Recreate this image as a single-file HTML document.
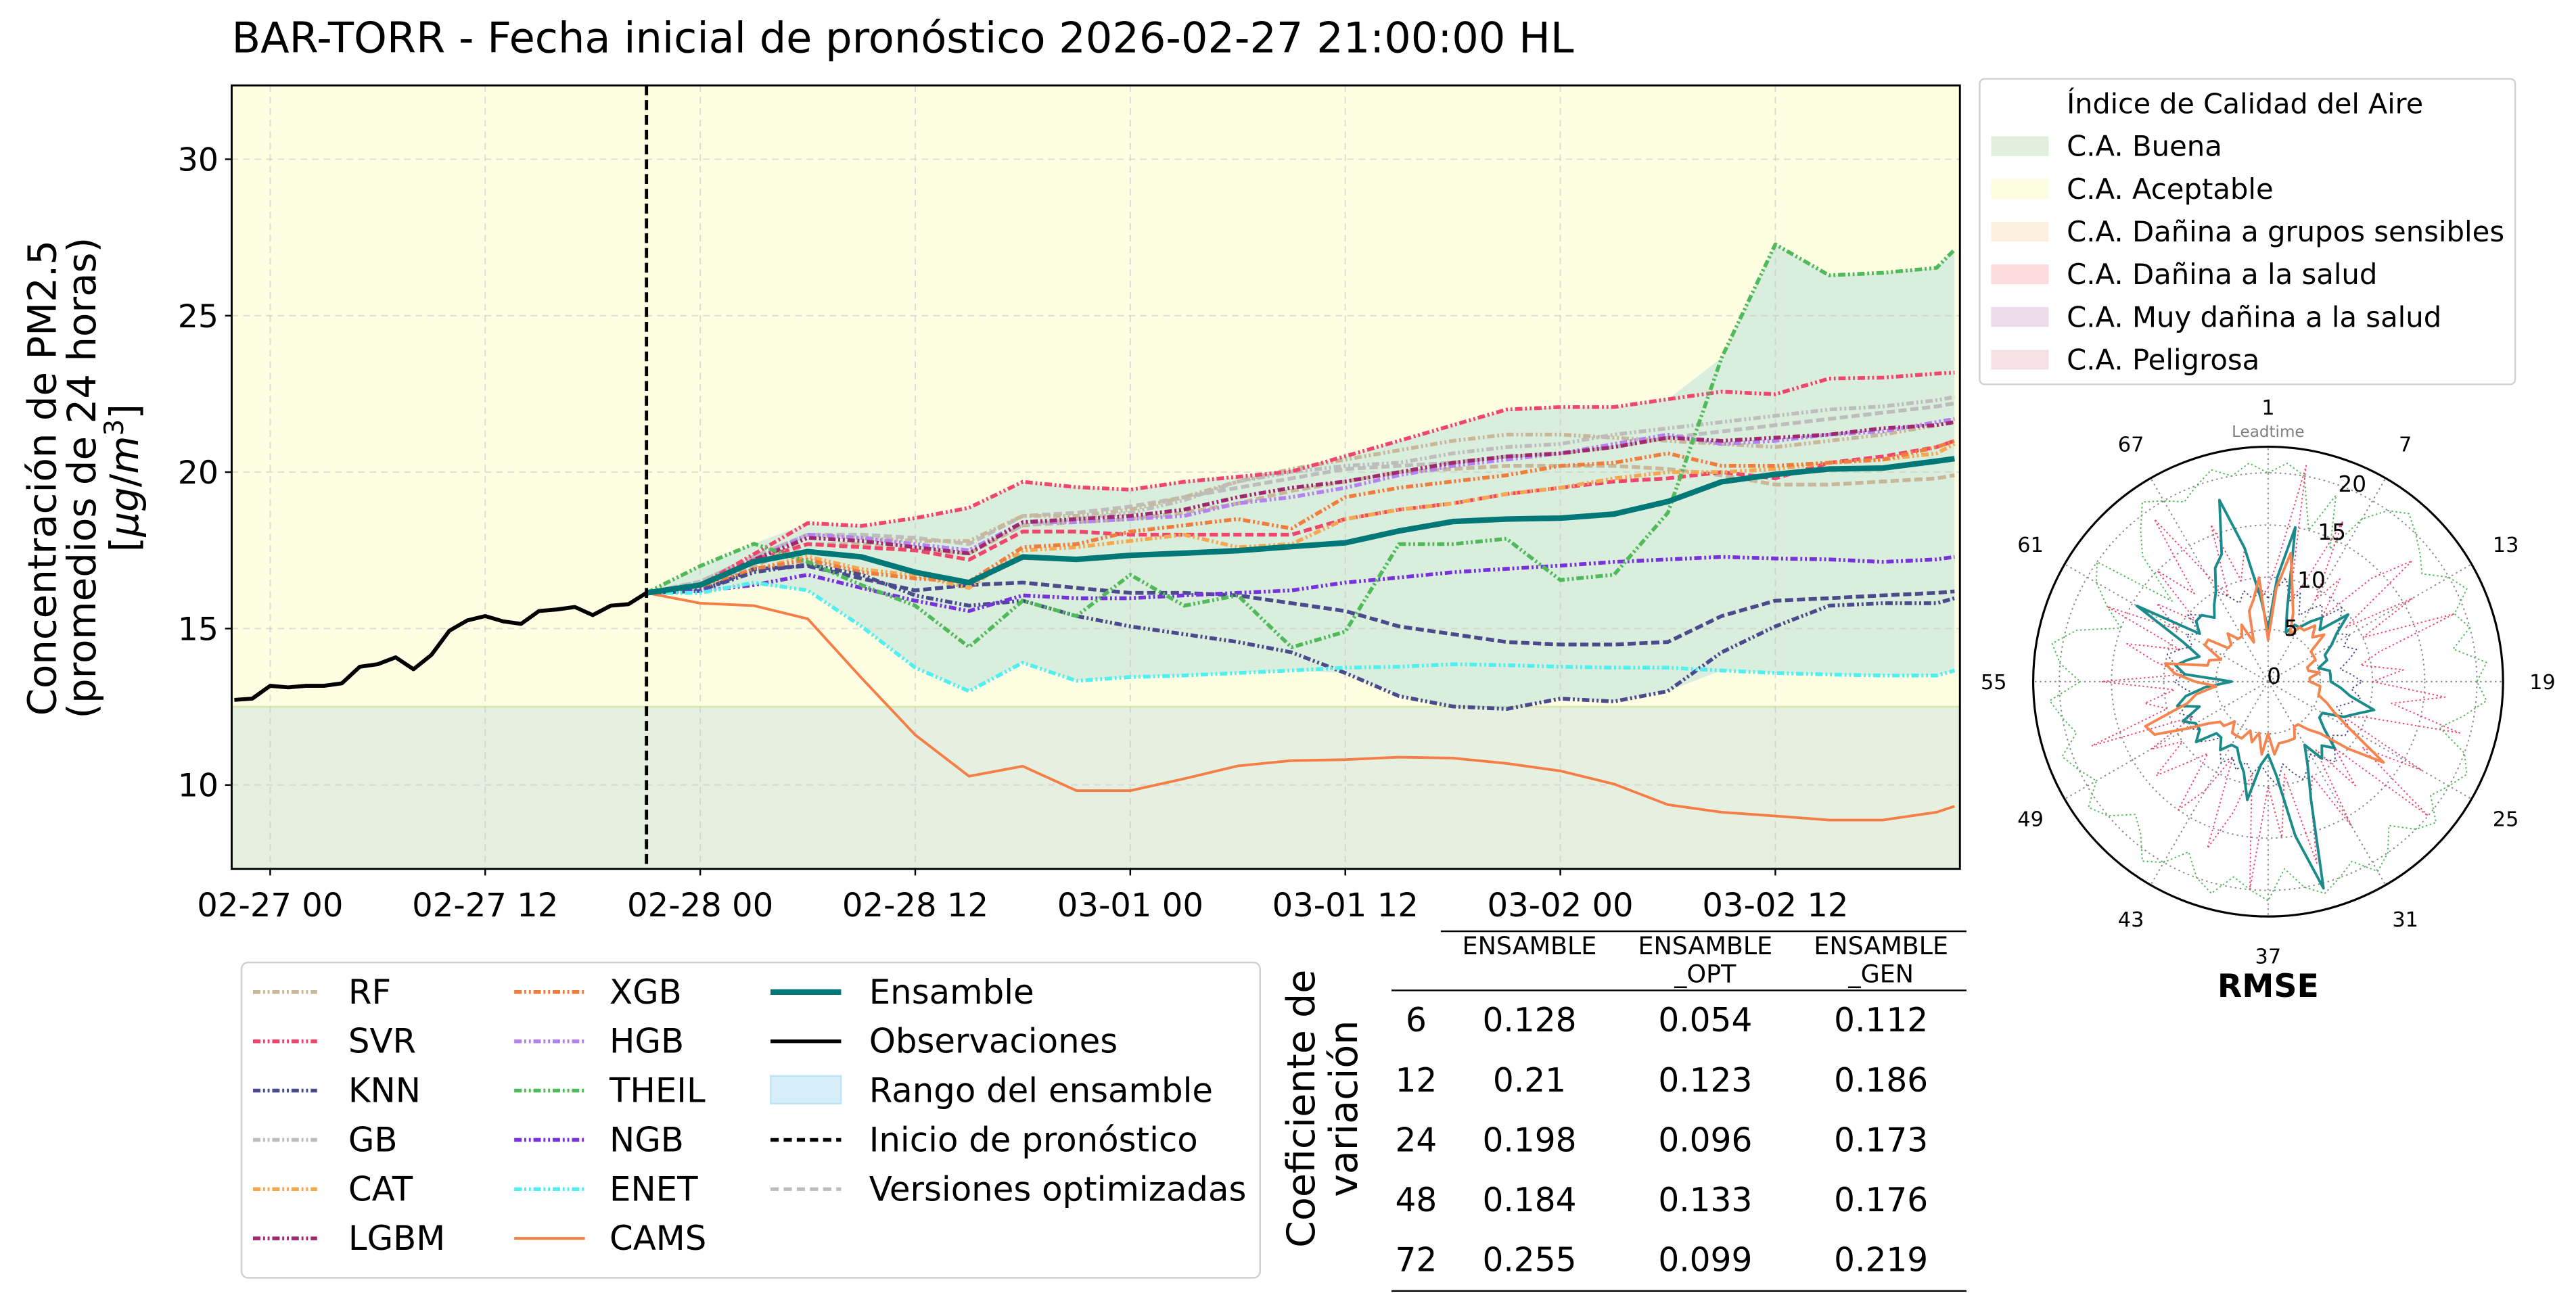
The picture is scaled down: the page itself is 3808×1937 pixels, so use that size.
<!DOCTYPE html>
<html><head><meta charset="utf-8"><style>
html,body{margin:0;padding:0;background:#fff}
svg{display:block;font-family:"DejaVu Sans","Liberation Sans",sans-serif}
</style></head><body>
<svg id="fig" width="3808" height="1937" viewBox="0 0 1568 797.6" xmlns="http://www.w3.org/2000/svg">
<defs><clipPath id="pc"><rect x="141" y="52" width="1052" height="477"/></clipPath></defs>
<text x="141" y="32" font-size="25.6">BAR-TORR - Fecha inicial de pronóstico 2026-02-27 21:00:00 HL</text>
<g font-size="23.8" text-anchor="middle">
<text transform="translate(34,291) rotate(-90)">Concentración de PM2.5</text>
<text transform="translate(58,291) rotate(-90)">(promedios de 24 horas)</text>
<text transform="translate(84,291) rotate(-90)">[<tspan font-style="italic">μg</tspan>/<tspan font-style="italic">m</tspan><tspan font-size="16" dy="-9">3</tspan><tspan dy="9">]</tspan></text>
</g>
<g id="main"></g>
<g id="leg"></g>
<g id="aqi"></g>
<g id="tbl"></g>
<g id="polar"></g>
</svg>
<script>
// ---- main chart data ----
const obsHours=[-2,-1,0,1,2,3,4,5,6,7,8,9,10,11,12,13,14,15,16,17,18,19,20,21];
const obsVals=[12.72,12.76,13.17,13.12,13.17,13.17,13.25,13.78,13.86,14.08,13.70,14.16,14.93,15.26,15.40,15.23,15.15,15.56,15.61,15.69,15.43,15.73,15.78,16.14];
const fcHours=[21,24,27,30,33,36,39,42,45,48,51,54,57,60,63,66,69,72,75,78,81,84,87,90,93,94];
const ensVals=[16.14,16.39,17.13,17.46,17.29,16.80,16.47,17.29,17.21,17.34,17.41,17.49,17.62,17.74,18.12,18.42,18.50,18.53,18.66,19.06,19.69,19.93,20.10,20.13,20.35,20.43];
const camsVals=[16.14,15.81,15.73,15.31,13.42,11.6,10.28,10.6,9.82,9.82,10.2,10.61,10.78,10.81,10.89,10.86,10.69,10.45,10.03,9.37,9.13,9.01,8.88,8.88,9.13,9.32];
const enetVals=[16.14,16.14,16.47,16.22,15.07,13.75,13.0,13.91,13.33,13.45,13.5,13.58,13.66,13.75,13.78,13.86,13.83,13.78,13.75,13.75,13.66,13.58,13.53,13.5,13.5,13.66];
const theilVals=[16.14,17.0,17.71,17.13,16.39,15.73,14.41,15.89,15.4,16.72,15.73,16.06,14.4,14.9,17.7,17.7,17.87,16.55,16.72,18.7,23.65,27.28,26.29,26.37,26.53,27.11];
const svrVals=[16.14,16.39,17.38,18.37,18.28,18.53,18.86,19.69,19.52,19.44,19.69,19.85,20.02,20.51,21.0,21.5,22.0,22.08,22.08,22.33,22.57,22.49,22.99,23.02,23.15,23.18];
const knnVals=[16.14,16.22,16.8,17.05,16.72,16.06,15.73,15.89,15.4,15.07,14.82,14.57,14.24,13.58,12.84,12.51,12.43,12.76,12.67,13.0,14.24,15.07,15.73,15.81,15.81,15.97];
const knnOptVals=[16.14,16.2,16.9,17.0,16.6,16.22,16.39,16.47,16.3,16.14,16.14,16.06,15.81,15.56,15.07,14.82,14.57,14.49,14.49,14.57,15.4,15.89,15.97,16.06,16.14,16.19];
const ngbVals=[16.14,16.2,16.39,16.72,16.3,15.89,15.56,16.06,15.97,15.97,16.06,16.14,16.22,16.47,16.63,16.8,16.91,17.01,17.13,17.21,17.29,17.24,17.21,17.13,17.21,17.29];
const rfVals=[16.14,16.4,17.1,17.9,17.9,17.8,17.8,18.6,18.6,18.8,19.2,19.7,20.1,20.4,20.7,21.0,21.2,21.2,21.1,21.0,20.9,20.8,21.0,21.2,21.5,21.6];
const gbVals=[16.14,16.5,17.3,18.0,17.9,17.6,17.5,18.3,18.5,18.7,19.1,19.7,20.0,20.2,20.3,20.6,20.8,20.9,21.2,21.4,21.6,21.8,22.0,22.1,22.3,22.4];
const lgbmVals=[16.14,16.4,17.2,17.9,17.8,17.6,17.4,18.4,18.5,18.6,18.8,19.2,19.5,19.7,20.0,20.3,20.5,20.6,20.8,21.1,21.0,21.1,21.2,21.4,21.5,21.6];
const hgbVals=[16.14,16.4,17.2,18.0,17.9,17.7,17.5,18.4,18.4,18.5,18.6,19.0,19.2,19.5,19.9,20.2,20.4,20.6,20.9,21.2,20.9,21.0,21.2,21.3,21.6,21.7];
const xgbVals=[16.14,16.3,16.9,17.2,16.8,16.6,16.5,17.6,17.7,18.1,18.3,18.5,18.2,19.2,19.5,19.7,19.9,20.2,20.3,20.6,20.2,20.2,20.3,20.4,20.8,21.0];
const catVals=[16.14,16.3,16.9,17.3,16.9,16.7,16.3,17.5,17.6,17.8,18.0,17.6,17.7,18.5,18.8,19.0,19.3,19.5,19.8,20.0,20.0,20.1,20.3,20.4,20.6,20.9];
const svrOptVals=[16.14,16.4,17.2,17.7,17.6,17.5,17.2,18.1,18.1,18.0,18.0,18.0,18.0,18.5,18.8,19.0,19.3,19.5,19.7,19.8,20.0,19.8,20.3,20.5,20.8,21.0];
const gbOptVals=[16.14,16.5,17.3,18.0,18.0,17.9,17.7,18.6,18.7,18.9,19.2,19.5,19.8,20.1,20.2,20.3,20.5,20.6,20.8,21.1,21.3,21.5,21.7,21.9,22.1,22.2];
const rfOptVals=[16.14,16.4,17.0,17.7,17.7,17.5,17.4,18.3,18.4,18.5,18.7,19.0,19.4,19.7,20.0,20.1,20.2,20.2,20.2,20.1,19.9,19.6,19.6,19.7,19.8,19.9];
const yTicks=[10,15,20,25,30];
const xTickHours=[0,12,24,36,48,60,72,84];
const xTickLabels=["02-27 00","02-27 12","02-28 00","02-28 12","03-01 00","03-01 12","03-02 00","03-02 12"];
const forecastStartHour=21;
const aqiLimit=12.5;

const NS="http://www.w3.org/2000/svg";
function mk(tag,attrs,parent){const e=document.createElementNS(NS,tag);for(const k in attrs)e.setAttribute(k,attrs[k]);if(parent)parent.appendChild(e);return e;}
const X0=141,X1=1193,Y0=52,Y1=529,HMIN=-2.15,HMAX=94.3,VMIN=7.32,VMAX=32.36;
const xs=h=>X0+(h-HMIN)/(HMAX-HMIN)*(X1-X0);
const ys=v=>Y1-(v-VMIN)/(VMAX-VMIN)*(Y1-Y0);
const main=document.getElementById('main');

let bgY=mk('rect',{x:X0,y:Y0,width:X1-X0,height:ys(aqiLimit)-Y0,fill:'#fefee3'},main);


let bgG=mk('rect',{x:X0,y:ys(aqiLimit),width:X1-X0,height:Y1-ys(aqiLimit),fill:'#e6f0e1'},main);


mk('line',{x1:X0,x2:X1,y1:ys(aqiLimit),y2:ys(aqiLimit),stroke:'#d8e8b0','stroke-width':1.2},main);

const models=[rfVals,svrVals,knnVals,gbVals,catVals,lgbmVals,xgbVals,hgbVals,theilVals,ngbVals,enetVals,svrOptVals,gbOptVals,rfOptVals,knnOptVals];
let up=[],lo=[];
fcHours.forEach((h,i)=>{const vals=models.map(m=>m[i]);up.push([xs(h),ys(Math.max(...vals))]);lo.push([xs(h),ys(Math.min(...vals))]);});
let bandPts=up.concat(lo.reverse()).map(p=>p.join(',')).join(' ');
let band=mk('polygon',{points:bandPts,fill:'#5ab4c8','fill-opacity':0.22,'clip-path':'url(#pc)'},main);



yTicks.forEach(v=>{mk('line',{x1:X0,x2:X1,y1:ys(v),y2:ys(v),stroke:'#c8c8c8','stroke-width':0.8,'stroke-dasharray':'4,3','opacity':0.6},main);});
xTickHours.forEach(h=>{mk('line',{x1:xs(h),x2:xs(h),y1:Y0,y2:Y1,stroke:'#c8c8c8','stroke-width':0.8,'stroke-dasharray':'4,3','opacity':0.6},main);});

const DD='4.5,1.6,1.2,1.6,1.2,1.6', DA='5,2.2';
function series(hours,vals,color,w,dash,name){
  const d=hours.map((h,i)=>(i?'L':'M')+xs(h).toFixed(2)+','+ys(vals[i]).toFixed(2)).join('');
  const p=mk('path',{d:d,fill:'none',stroke:color,'stroke-width':w,'stroke-linejoin':'round','clip-path':'url(#pc)'},main);
  if(dash)p.setAttribute('stroke-dasharray',dash);
  
  
}
series(fcHours,rfOptVals,'#c8b89a',2.3,DA,'rf-opt-line');
series(fcHours,gbOptVals,'#bdbdbd',2.3,DA,'gb-opt-line');
series(fcHours,svrOptVals,'#f0466e',2.3,DA,'svr-opt-line');
series(fcHours,knnOptVals,'#4b4b8c',2.3,DA,'knn-opt-line');
series(fcHours,rfVals,'#c8b89a',2.3,DD,'rf-line');
series(fcHours,gbVals,'#bdbdbd',2.3,DD,'gb-line');
series(fcHours,catVals,'#f5a850',2.3,DD,'cat-line');
series(fcHours,xgbVals,'#f07d3c',2.3,DD,'xgb-line');
series(fcHours,hgbVals,'#b482f0',2.3,DD,'hgb-line');
series(fcHours,lgbmVals,'#a0286e',2.3,DD,'lgbm-line');
series(fcHours,svrVals,'#f0466e',2.3,DD,'svr-line');
series(fcHours,knnVals,'#4b4b8c',2.3,DD,'knn-line');
series(fcHours,ngbVals,'#7832dc',2.3,DD,'ngb-line');
series(fcHours,theilVals,'#50b95a',2.3,DD,'theil-line');
series(fcHours,enetVals,'#50f0f0',2.3,DD,'enet-line');
series(fcHours,camsVals,'#f57d46',1.6,null,'cams-line');
series(fcHours,ensVals,'#007878',3.4,null,'ensemble-line');
series(obsHours,obsVals,'#000',2.4,null,'observations-line');
let vl=mk('line',{x1:xs(forecastStartHour),x2:xs(forecastStartHour),y1:Y0,y2:Y1,stroke:'#000','stroke-width':2,'stroke-dasharray':'6,3'},main);



mk('rect',{x:X0,y:Y0,width:X1-X0,height:Y1-Y0,fill:'none',stroke:'#000','stroke-width':1.2},main);
yTicks.forEach(v=>{
  mk('line',{x1:X0-4,x2:X0,y1:ys(v),y2:ys(v),stroke:'#000','stroke-width':1},main);
  const t=mk('text',{x:X0-8,y:ys(v)+7,'font-size':19.5,'text-anchor':'end'},main);t.textContent=v;
  
  
});
xTickHours.forEach((h,i)=>{
  mk('line',{x1:xs(h),x2:xs(h),y1:Y1,y2:Y1+4,stroke:'#000','stroke-width':1},main);
  const t=mk('text',{x:xs(h),y:558,'font-size':19.8,'text-anchor':'middle'},main);t.textContent=xTickLabels[i];
  
  
});

const leg=document.getElementById('leg');
mk('rect',{x:147,y:586,width:620,height:192,rx:4,fill:'#fff',stroke:'#d0d0d0','stroke-width':1},leg);
const legItems=[
 [0,0,'RF','#c8b89a','line',DD,2.3],[0,1,'SVR','#f0466e','line',DD,2.3],[0,2,'KNN','#4b4b8c','line',DD,2.3],[0,3,'GB','#bdbdbd','line',DD,2.3],[0,4,'CAT','#f5a850','line',DD,2.3],[0,5,'LGBM','#a0286e','line',DD,2.3],
 [1,0,'XGB','#f07d3c','line',DD,2.3],[1,1,'HGB','#b482f0','line',DD,2.3],[1,2,'THEIL','#50b95a','line',DD,2.3],[1,3,'NGB','#7832dc','line',DD,2.3],[1,4,'ENET','#50f0f0','line',DD,2.3],[1,5,'CAMS','#f57d46','line',null,1.6],
 [2,0,'Ensamble','#007878','line',null,3.4],[2,1,'Observaciones','#000','line',null,2.2],[2,2,'Rango del ensamble','#87ceeb','patch',null,1],[2,3,'Inicio de pronóstico','#000','line','5,3',2.2],[2,4,'Versiones optimizadas','#bdbdbd','line','5,3',2.2]];
const colX=[[154,193,212],[313,356,371],[469,512,529]];
legItems.forEach(it=>{
  const [c,r,lab,col,kind,dash,w]=it;const y=604+r*30;const cx=colX[c];
  const g=mk('g',{},leg);
  
  
  if(kind==='patch'){mk('rect',{x:cx[0],y:y-9,width:cx[1]-cx[0],height:17,fill:col,'fill-opacity':0.35,stroke:col,'stroke-opacity':0.4},g);}
  else{const l=mk('line',{x1:cx[0],x2:cx[1],y1:y,y2:y,stroke:col,'stroke-width':w},g);if(dash)l.setAttribute('stroke-dasharray',dash);}
  const t=mk('text',{x:cx[2],y:y+7,'font-size':20.5},g);t.textContent=lab;
});

const aqi=document.getElementById('aqi');
mk('rect',{x:1205,y:48,width:326,height:186,rx:3,fill:'#fff',stroke:'#d0d0d0','stroke-width':1},aqi);
let at=mk('text',{x:1258,y:69,'font-size':17},aqi);at.textContent='Índice de Calidad del Aire';
const aqiLabels=['C.A. Buena','C.A. Aceptable','C.A. Dañina a grupos sensibles','C.A. Dañina a la salud','C.A. Muy dañina a la salud','C.A. Peligrosa'];
const aqiColors=['#e1efdc','#fdfde0','#fcf1de','#fcdcdc','#ecdcec','#f3e1e4'];
aqiLabels.forEach((l,i)=>{const y=89+i*26;const g=mk('g',{},aqi);
  
  
  mk('rect',{x:1212,y:y-6,width:35,height:12,fill:aqiColors[i]},g);
  const t=mk('text',{x:1258,y:y+6,'font-size':17.2},g);t.textContent=l;});

const cvLeads=['6','12','24','48','72'];
const cvEns=['0.128','0.21','0.198','0.184','0.255'];
const cvOpt=['0.054','0.123','0.096','0.133','0.099'];
const cvGen=['0.112','0.186','0.173','0.176','0.219'];
const tbl=document.getElementById('tbl');
let r1=mk('text',{transform:'translate(800,675) rotate(-90)','font-size':23.5,'text-anchor':'middle'},tbl);r1.textContent='Coeficiente de';
let r2=mk('text',{transform:'translate(826,675) rotate(-90)','font-size':23.5,'text-anchor':'middle'},tbl);r2.textContent='variación';
mk('line',{x1:877,x2:1197,y1:567,y2:567,stroke:'#000','stroke-width':1},tbl);
mk('line',{x1:847,x2:1197,y1:603,y2:603,stroke:'#000','stroke-width':1},tbl);
mk('line',{x1:847,x2:1197,y1:786,y2:786,stroke:'#000','stroke-width':1},tbl);
[['ENSAMBLE',''],['ENSAMBLE','_OPT'],['ENSAMBLE','_GEN']].forEach((h,i)=>{const x=[931,1038,1145][i];
  const t=mk('text',{x:x,y:581,'font-size':15,'text-anchor':'middle'},tbl);t.textContent=h[0];
  if(h[1]){const t2=mk('text',{x:x,y:598,'font-size':15,'text-anchor':'middle'},tbl);t2.textContent=h[1];}});
cvLeads.forEach((l,i)=>{const y=628+i*36.5;
  [[862,l],[931,cvEns[i]],[1038,cvOpt[i]],[1145,cvGen[i]]].forEach(c=>{const t=mk('text',{x:c[0],y:y,'font-size':20,'text-anchor':'middle'},tbl);t.textContent=c[1];
  
  });});

// ---- polar RMSE ----
const leadtimes=Array.from({length:72},(_,i)=>i+1);
const rmseEns=[5,10,15,7,5,6,6,7,8,7,10,8,7,6,6,5,6,6,6,7,8,10.5,9,8,6,6,7,9,8,9,7,9,12,20.5,15,9,7,8,11.5,9,8,7,7,8,7,7,9,8,8,9,7,9,8,6,3.5,8,9,8,7,9,14.5,8,9,9,8,9,10,12,13,18,13,8];
const rmseCams=[4,9,12.5,9,7,5,6,6,7,6,7,5,5,5,4,4,5,4,4,5,5,5,6,7,9,13.5,10,7,6,5,5,6,6,6,6,7,5,7,5,6,5,6,6,6,5,6,6,7,9,12,12.5,8,7,5,7,9,10,6,6,5,7,7,5,5,6,5,5,6,4,7,8,10];
const rmseTheil=[20,21,20,15,19,14,18,20,21,20,19,18,20,21,19,20,18,21,20,21,19,17,20,21,20,19,21,20,18,20,21,19,20,21,20,18,21,20,19,21,20,18,20,21,19,18,20,21,19,20,21,19,20,21,18,20,21,19,15,17,19,20,12,17,19,21,20,19,20,21,20,21];
const rmseSvr=[9,12,21,8,10,17,9,12,8,14,18,9,16,10,19,11,9,13,10,17,12,19,10,8,17,11,20,9,13,8,16,10,12,18,9,15,10,20,9,13,17,8,12,15,9,11,14,10,13,8,18,10,12,9,16,8,11,14,9,17,10,13,9,15,11,19,12,9,16,10,13,8];
const rmseKnn=[8,9,10,8,9,7,8,9,8,10,9,8,9,8,9,8,7,8,9,8,9,8,7,8,9,9,8,9,10,9,8,9,10,9,8,10,9,8,9,8,9,8,9,8,7,8,9,8,9,8,9,8,7,8,9,8,9,10,9,8,9,8,10,9,8,9,10,9,8,9,8,9];
const radialTicks=[0,5,10,15,20];
const thetaTickLeads=[1,7,13,19,25,31,37,43,49,55,61,67];
const CX=1380.6,CY=415,RPX=143,RMAX=22.5;
const pol=document.getElementById('polar');
const rr=v=>v/RMAX*RPX;
const ang=lt=>(lt-1)*360/72*Math.PI/180;
const pxy=(lt,v)=>[CX+rr(v)*Math.sin(ang(lt)),CY-rr(v)*Math.cos(ang(lt))];
mk('circle',{cx:CX,cy:CY,r:RPX,fill:'#fff'},pol);
radialTicks.slice(1).forEach(v=>mk('circle',{cx:CX,cy:CY,r:rr(v),fill:'none',stroke:'#888','stroke-width':0.8,'stroke-dasharray':'1,2'},pol));
thetaTickLeads.forEach(lt=>{const p=pxy(lt,RMAX);mk('line',{x1:CX,y1:CY,x2:p[0],y2:p[1],stroke:'#888','stroke-width':0.8,'stroke-dasharray':'1,2'},pol);
  const a=ang(lt);const t=mk('text',{x:CX+167*Math.sin(a),y:CY-167*Math.cos(a)+4.5,'font-size':12.5,'text-anchor':'middle'},pol);t.textContent=lt;
  
  });
function polarLine(vals,color,w,dash,name){
  const d=leadtimes.map((lt,i)=>{const p=pxy(lt,vals[i]);return (i?'L':'M')+p[0].toFixed(2)+','+p[1].toFixed(2);}).join('')+'Z';
  const p=mk('path',{d:d,fill:'none',stroke:color,'stroke-width':w,'stroke-linejoin':'round'},pol);
  if(dash)p.setAttribute('stroke-dasharray',dash);
  
  
}
polarLine(rmseTheil,'#50b95a',0.8,'1,1.5','polar-theil-line');
polarLine(rmseSvr,'#f0466e',0.8,'1,1.5','polar-svr-line');
polarLine(rmseKnn,'#4b4b8c',0.8,'1,1.5','polar-knn-line');
polarLine(rmseEns,'#1a8a8a',1.6,null,'polar-ensemble-line');
polarLine(rmseCams,'#f5844e',1.6,null,'polar-cams-line');
radialTicks.forEach(v=>{const a=23*Math.PI/180;const r=rr(v)+4;const t=mk('text',{x:CX+r*Math.sin(a)+(v===0?2:0),y:CY-r*Math.cos(a)+5,'font-size':13.5,'text-anchor':'middle'},pol);t.textContent=v;
  
  });
mk('circle',{cx:CX,cy:CY,r:RPX,fill:'none',stroke:'#000','stroke-width':1.3},pol);
let lt=mk('text',{x:CX,y:266,'font-size':9.5,fill:'#808080','text-anchor':'middle'},pol);lt.textContent='Leadtime';
let rm=mk('text',{x:CX,y:607,'font-size':19.5,'font-weight':'bold','text-anchor':'middle'},pol);rm.textContent='RMSE';
</script>
</body></html>
